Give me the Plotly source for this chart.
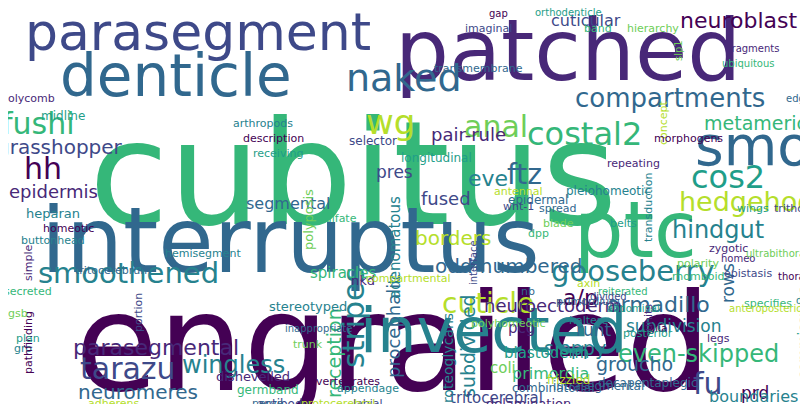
import plotly.graph_objects as go

words = ["engrailed","cubitus","interruptus","patched","parasegment","denticle","invected","ptc","smo",
         "naked","wg","costal2","compartments","anal","cos2","hedgehog","neuroblast","cuticular","metameric",
         "ftz","eve","pres","fused","pair-rule","gooseberry","hindgut","smoothened","cuticle","armadillo",
         "fushi","grasshopper","hh","epidermis","borders","odd-numbered","neuroectoderm","a/p","tarazu",
         "parasegmental","wingless","neuromeres","stripes","procephalic","reception","subdivided",
         "even-skipped","fu","groucho","prd","runt","sloppy","subdivision","rows","boundaries","commissures",
         "adenomatous","primordia","blastoderm","tritocerebral","coli","pcg","proteoglycans","segmental",
         "heparan","polyposis","selector","longitudinal","pleiohomeotic","epidermal","spiracles","nkd",
         "stereotyped","dishevelled","germband","antibody","delamination","combinatorial","intrasegmental",
         "decapentaplegic","frizzled","buttonhead","homeotic","midline","polycomb","band","imaginal",
         "hierarchy","transmembrane","concept","arthropods","description","receiving","repeating","dpp",
         "wnt-1","blade","spread","antennal","transduction","morphogens","belts","zygotic","rhomboid",
         "trithorax","polarity","primordium","axin","haltere","glia","wings","legs","sulfate","labial",
         "trunk","nerve","protocerebral","appendage","invertebrates","posterior","units","specifies",
         "epistasis","polyhomeotic","tritocerebrum","adherens","gro","pathfinding","plan","simple",
         "secreted","portion","gsb","nb","compartmental","hemisegment","gap","orthodenticle","fragments",
         "ubiquitous","interface","slp1","edge","anteroposterior","dally","thoracic","abdominal","homeo",
         "reiterated","divided","ultrabithorax","inappropriate","terminalia","costal-2"]
weights = [135,145,90,85,52,58,62,78,55,38,34,32,26,30,32,27,22,16,19,28,22,17,18,18,29,24,29,28,22,
           30,20,30,18,20,20,18,22,30,22,24,20,30,18,19,19,24,30,19,17,17,19,17,17,16,14,15,16,15,15,15,15,
           14,16,13,13,12,12,12,12,15,13,13,13,12,12,13,12,12,12,12,11,11,12,11,11,11,11,11,11,11,11,11,11,
           11,11,11,11,11,11,11,11,11,11,11,11,11,11,11,11,11,11,11,11,11,11,11,11,11,11,11,11,11,11,11,11,
           11,11,11,11,11,11,11,11,11,11,10,10,10,10,10,10,10,10,10,10,10,10,10,10,10,10,10,10,10]

# layout of the cloud (pixel centres)
pos = [(385,335),(345,165),(282,232),(560,42),(190,24),(168,68),(485,322),(627,222),(745,138),
       (396,70),(382,114),(576,126),(662,90),(488,118),(720,169),(738,193),(730,12),(578,12),(747,115),
       (516,166),(480,170),(386,164),(438,190),(460,126),(625,263),(710,222),(120,265),(480,295),(650,296),
       (30,115),(52,139),(35,160),(45,183),(445,230),(500,258),(545,297),(572,289),(120,360),
       (148,339),(225,357),(130,384),(345,310),(385,318),(326,345),(460,338),
       (690,346),(700,375),(626,356),(747,385),(586,322),(567,340),(665,318),(720,275),(745,388),(795,325),
       (387,240),(542,365),(538,345),(488,390),(495,360),(513,320),(440,355),(280,195),
       (45,205),(300,212),(365,133),(428,150),(600,183),(530,192),(335,265),(355,272),
       (300,298),(245,368),(260,382),(275,396),(520,395),(545,380),(590,378),
       (640,375),(560,372),(45,232),(60,220),(55,108),(20,90),(590,20),(480,20),
       (645,20),(470,60),(655,115),(255,115),(265,130),(270,145),(625,155),(530,225),
       (510,198),(550,215),(550,200),(510,183),(640,200),(680,130),(615,215),(720,240),(690,268),
       (790,200),(690,255),(580,293),(580,275),(580,312),(650,320),(745,200),(710,330),(330,210),(360,395),
       (300,336),(260,395),(330,395),(360,380),(335,373),(640,325),(640,310),
       (760,295),(740,265),(500,315),(105,262),(105,395),(15,340),(20,335),(20,330),
       (20,255),(20,283),(130,305),(10,305),(520,283),(400,270),(195,245),(490,5),
       (560,4),(745,40),(740,55),(465,255),(670,43),(790,90),(760,300),(800,292),(790,268),
       (625,300),(730,250),(615,283),(600,288),(770,245),(310,320)]
rot = {"stripes":-90,"procephalic":-90,"reception":-90,"subdivided":-90,"rows":-90,"commissures":-90,
       "adenomatous":-90,"proteoglycans":-90,"polyposis":-90,"concept":-90,"units":-90,"transduction":-90,
       "interface":-90,"slp1":-90,"terminalia":-90,"pathfinding":-90,"simple":-90,"portion":-90}
viridis = ["#440154","#482878","#3e4989","#31688e","#26828e","#1f9e89","#35b779","#6ece58","#b5de2b"]
colors = [0,6,3,1,2,3,4,6,3,3,8,6,3,7,5,8,0,2,6,3,4,2,2,1,4,4,4,8,3,6,2,0,1,8,3,1,0,2,1,4,3,4,3,6,4,
          6,2,3,0,3,4,4,3,4,5,4,6,5,2,7,1,4,3,4,7,2,5,4,3,6,1,4,1,6,2,1,3,3]

fig = go.Figure()
ann = []
n = min(len(words), len(weights), len(pos))
for i in range(n):
    w = words[i]
    x, y = pos[i]
    c = viridis[colors[i]] if i < len(colors) else viridis[(i * 5) % 9]
    ann.append(dict(x=x, y=y, text=w, showarrow=False, xref="x", yref="y",
                    textangle=rot.get(w, 0), font=dict(family="DejaVu Sans", size=weights[i], color=c)))
fig.update_layout(width=808, height=404, margin=dict(l=0, r=0, t=0, b=0),
                  plot_bgcolor="white", paper_bgcolor="white", annotations=ann,
                  xaxis=dict(range=[0, 808], visible=False),
                  yaxis=dict(range=[404, 0], visible=False))
fig.write_html("out.html")
